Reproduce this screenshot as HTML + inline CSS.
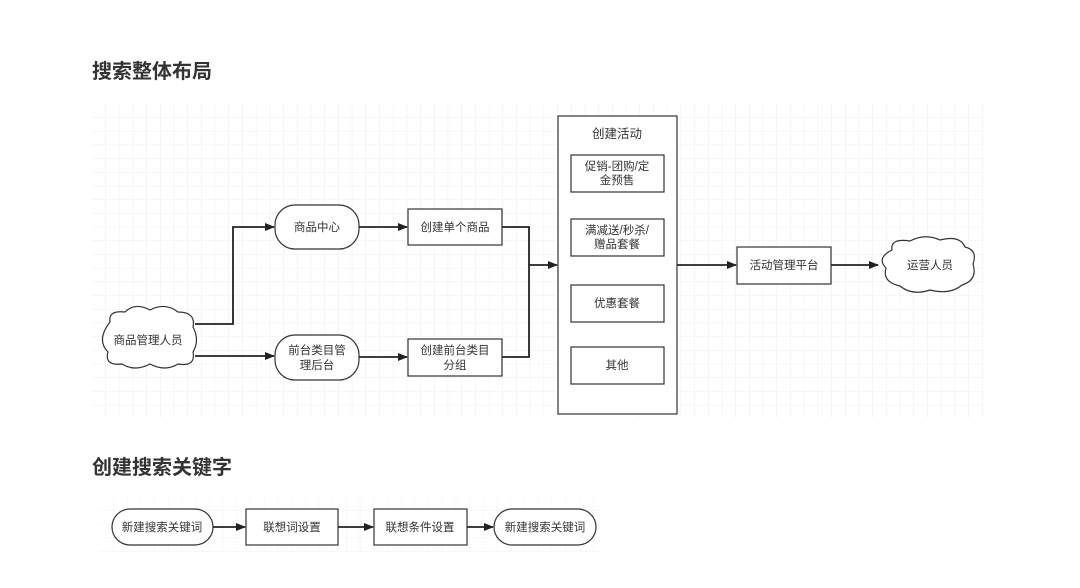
<!DOCTYPE html>
<html><head><meta charset="utf-8"><style>
body{margin:0;background:#fff;width:1080px;height:588px;overflow:hidden}
svg{display:block}
text{font-family:"Liberation Sans","Noto Sans CJK SC",sans-serif;fill:#333}
</style></head><body>
<svg width="1080" height="588" viewBox="0 0 1080 588" xmlns="http://www.w3.org/2000/svg">
<defs>
<pattern id="g" width="13.7" height="13.7" patternUnits="userSpaceOnUse" x="92" y="104">
<path d="M13.7 0V13.7M0 13.7H13.7" stroke="#ececec" stroke-width="1" fill="none"/>
</pattern>
<pattern id="g2" width="13.7" height="13.7" patternUnits="userSpaceOnUse" x="100" y="497">
<path d="M13.7 0V13.7M0 13.7H13.7" stroke="#f0f0f0" stroke-width="1" fill="none"/>
</pattern>
<marker id="a" markerWidth="10" markerHeight="8" refX="9" refY="4" orient="auto" markerUnits="userSpaceOnUse">
<path d="M0 0L10 4L0 8Z" fill="#222"/>
</marker>
</defs>
<rect x="92" y="104" width="893" height="314" fill="url(#g)"/>
<rect x="100" y="497" width="500" height="56" fill="url(#g2)"/>

<text x="92" y="78" font-size="20" font-weight="bold" fill="#222">搜索整体布局</text>
<text x="92" y="474" font-size="20" font-weight="bold" fill="#222">创建搜索关键字</text>

<g stroke="#333" stroke-width="1.2" fill="#fff">
<!-- cloud left -->
<path d="M110 322 Q108 310 125 312 Q135 302 150 310 Q165 302 178 312 Q196 312 193 327 Q200 340 193 352 Q196 367 178 364 Q165 372 150 364 Q135 372 122 364 Q104 366 108 352 Q96 340 110 322Z"/>
<rect x="275" y="205" width="84" height="44" rx="20"/>
<rect x="408" y="209" width="94" height="36"/>
<rect x="275" y="335" width="84" height="45" rx="20"/>
<rect x="408" y="339" width="94" height="37"/>
<rect x="558" y="116" width="119" height="298"/>
<rect x="571" y="155" width="93" height="37"/>
<rect x="571" y="219" width="93" height="37"/>
<rect x="571" y="285" width="93" height="37"/>
<rect x="571" y="347" width="93" height="37"/>
<rect x="737" y="247" width="94" height="37"/>
<path d="M892 250 Q890 238 910 241 Q925 233 940 240 Q960 235 965 247 Q978 250 973 264 Q978 280 962 285 Q950 295 930 290 Q912 296 900 286 Q882 282 886 268 Q876 258 892 250Z"/>
<rect x="112" y="509" width="101" height="36" rx="18"/>
<rect x="246" y="509" width="92" height="36"/>
<rect x="374" y="509" width="93" height="36"/>
<rect x="494" y="509" width="102" height="36" rx="18"/>
</g>

<g stroke="#222" stroke-width="1.8" fill="none" marker-end="url(#a)">
<path d="M195 324H233V227H274"/>
<path d="M195 356H274"/>
<path d="M359 227H407"/>
<path d="M359 357H407"/>
<path d="M502 227H529V357H502M529 265H557" marker-end="url(#a)"/>
<path d="M677 265H736"/>
<path d="M831 265H878"/>
<path d="M213 527H245"/>
<path d="M338 527H373"/>
<path d="M467 527H493"/>
</g>

<g font-size="11.5" text-anchor="middle">
<text x="148" y="344">商品管理人员</text>
<text x="317" y="231">商品中心</text>
<text x="455" y="231">创建单个商品</text>
<text x="317" y="354">前台类目管</text>
<text x="317" y="369">理后台</text>
<text x="455" y="354">创建前台类目</text>
<text x="455" y="369">分组</text>
<text x="617" y="138" font-size="12.5">创建活动</text>
<text x="617" y="170">促销-团购/定</text>
<text x="617" y="184">金预售</text>
<text x="617" y="234">满减送/秒杀/</text>
<text x="617" y="248">赠品套餐</text>
<text x="617" y="307">优惠套餐</text>
<text x="617" y="369">其他</text>
<text x="784" y="269">活动管理平台</text>
<text x="930" y="269">运营人员</text>
<text x="162" y="531">新建搜索关键词</text>
<text x="292" y="531">联想词设置</text>
<text x="420" y="531">联想条件设置</text>
<text x="545" y="531">新建搜索关键词</text>
</g>
</svg>
</body></html>
